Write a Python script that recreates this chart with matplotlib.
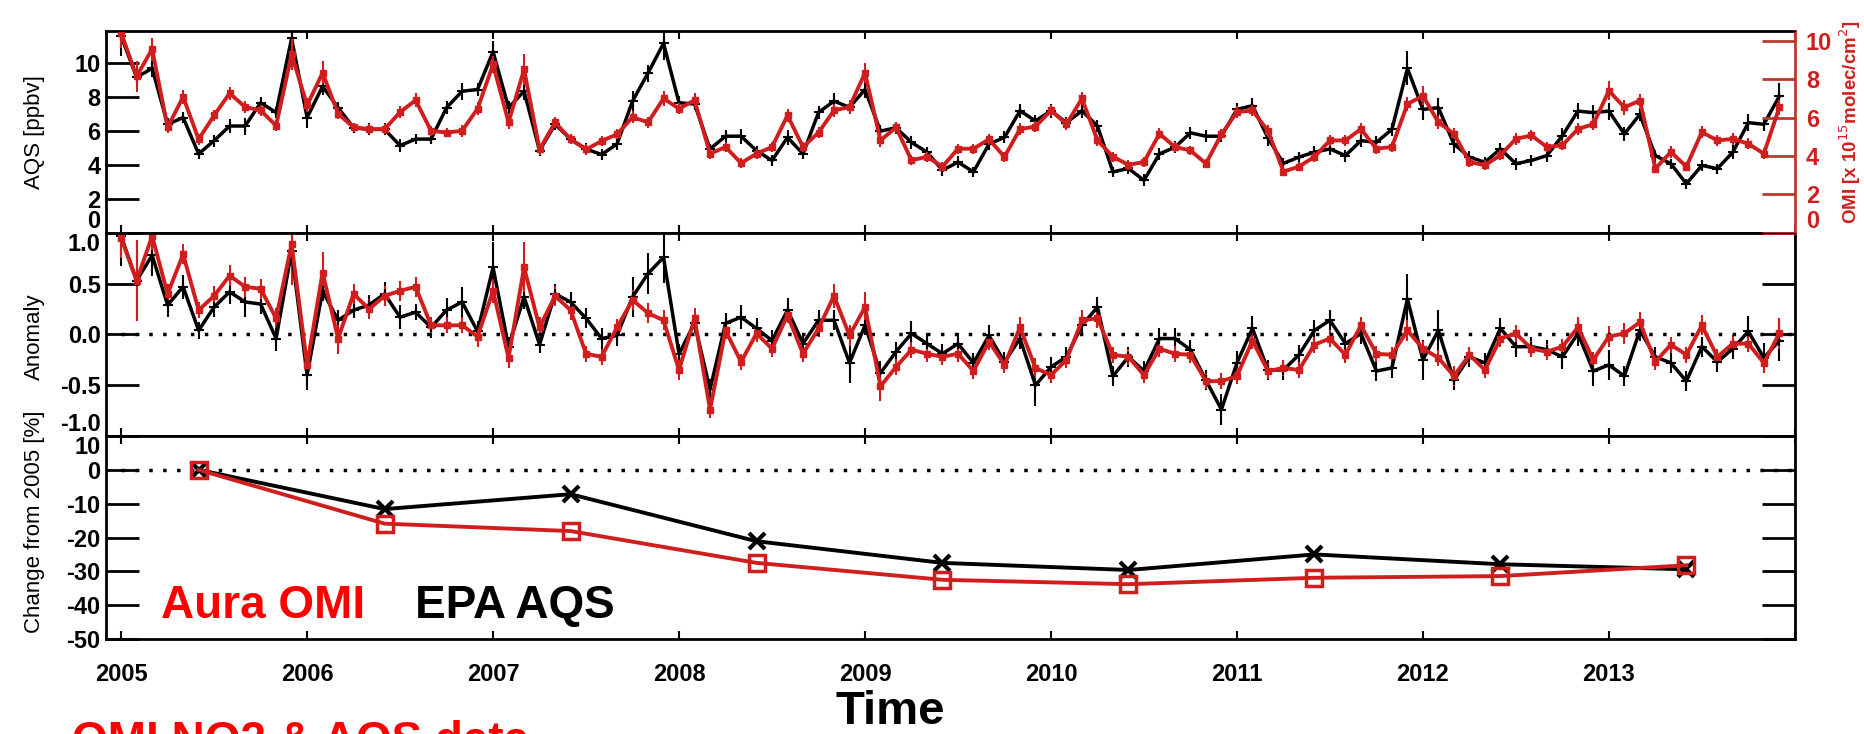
import numpy as np
import matplotlib.pyplot as plt

plt.rcParams['font.family'] = ['Liberation Sans', 'DejaVu Sans']
plt.rcParams['axes.unicode_minus'] = False

# monthly series, Jan 2005 .. Dec 2013
months = np.arange(108)
t = 2005 + months / 12.0

aqs_no2 = [11.6, 9.17, 9.7, 6.4, 6.8, 4.66, 5.44, 6.3, 6.3, 7.67, 7.1, 11.46,
           6.8, 8.64, 7.38, 6.2, 6.1, 6.1, 5.15, 5.53, 5.53, 7.38, 8.35, 8.45,
           10.68, 7.38, 8.35, 4.85, 6.4, 5.53, 4.95, 4.62, 5.24, 7.77, 9.42, 11.17,
           7.67, 7.6, 4.95, 5.7, 5.7, 4.85, 4.27, 5.63, 4.66, 7.1, 7.77, 7.4,
           8.45, 6.0, 6.2, 5.34, 4.76, 3.7, 4.17, 3.6, 5.24, 5.63, 7.2, 6.6,
           7.2, 6.5, 7.2, 6.3, 3.6, 3.8, 3.1, 4.66, 5.05, 5.9, 5.7, 5.7,
           7.28, 7.5, 5.6, 4.1, 4.47, 4.76, 4.95, 4.56, 5.44, 5.34, 6.1, 9.7,
           7.28, 7.38, 5.24, 4.47, 4.17, 4.95, 4.08, 4.27, 4.56, 5.73, 7.18, 7.09,
           7.18, 5.83, 6.99, 4.56, 4.08, 2.9, 3.98, 3.79, 4.76, 6.5, 6.4, 8.06]
aqs_err = [1.2, 0.4, 0.5, 0.35, 0.35, 0.3, 0.35, 0.4, 0.5, 0.35, 0.3, 1.2,
           0.6, 0.5, 0.35, 0.3, 0.35, 0.35, 0.4, 0.3, 0.3, 0.4, 0.5, 0.4,
           0.6, 0.4, 0.5, 0.3, 0.35, 0.3, 0.35, 0.3, 0.35, 0.6, 0.5, 1.0,
           0.4, 0.35, 0.3, 0.35, 0.45, 0.3, 0.3, 0.45, 0.3, 0.4, 0.5, 0.4,
           0.5, 0.35, 0.35, 0.4, 0.3, 0.35, 0.35, 0.3, 0.35, 0.35, 0.4, 0.35,
           0.4, 0.35, 0.4, 0.35, 0.3, 0.3, 0.35, 0.35, 0.35, 0.35, 0.35, 0.35,
           0.4, 0.45, 0.5, 0.3, 0.3, 0.35, 0.35, 0.35, 0.35, 0.35, 0.4, 1.0,
           0.6, 0.6, 0.5, 0.35, 0.3, 0.35, 0.35, 0.35, 0.35, 0.45, 0.45, 0.45,
           0.5, 0.4, 0.4, 0.35, 0.3, 0.3, 0.3, 0.3, 0.4, 0.5, 0.4, 0.8]

omi_no2 = [10.4, 8.14, 9.56, 5.49, 7.08, 4.87, 6.11, 7.26, 6.55, 6.37, 5.58, 9.29,
           6.64, 8.32, 6.2, 5.49, 5.4, 5.4, 6.28, 6.9, 5.31, 5.22, 5.31, 6.46,
           8.76, 5.75, 8.5, 4.34, 5.75, 4.87, 4.34, 4.78, 5.13, 6.02, 5.75, 6.99,
           6.46, 6.9, 4.12, 4.47, 3.63, 4.12, 4.47, 6.11, 4.47, 5.22, 6.37, 6.55,
           8.32, 4.81, 5.49, 3.78, 3.96, 3.45, 4.38, 4.38, 4.87, 3.96, 5.4, 5.53,
           6.37, 5.66, 6.99, 4.81, 3.96, 3.54, 3.69, 5.16, 4.47, 4.29, 3.61, 5.13,
           6.28, 6.37, 5.31, 3.19, 3.45, 3.96, 4.81, 4.81, 5.4, 4.38, 4.47, 6.7,
           7.13, 5.75, 5.16, 3.69, 3.52, 4.04, 4.89, 5.07, 4.47, 4.56, 5.4, 5.66,
           7.39, 6.53, 6.88, 3.35, 4.21, 3.45, 5.24, 4.81, 4.89, 4.64, 4.12, 6.53]
omi_err = [0.8, 0.8, 0.6, 0.3, 0.35, 0.3, 0.3, 0.35, 0.3, 0.3, 0.3, 0.8,
           0.35, 0.6, 0.3, 0.25, 0.25, 0.25, 0.3, 0.35, 0.25, 0.25, 0.3, 0.35,
           0.45, 0.35, 0.8, 0.3, 0.3, 0.25, 0.3, 0.25, 0.25, 0.3, 0.3, 0.4,
           0.3, 0.35, 0.25, 0.25, 0.25, 0.25, 0.25, 0.35, 0.25, 0.3, 0.35, 0.35,
           0.5, 0.35, 0.3, 0.25, 0.25, 0.25, 0.25, 0.25, 0.3, 0.25, 0.3, 0.3,
           0.3, 0.3, 0.35, 0.3, 0.25, 0.25, 0.25, 0.3, 0.25, 0.25, 0.25, 0.3,
           0.3, 0.3, 0.3, 0.25, 0.25, 0.25, 0.3, 0.3, 0.3, 0.25, 0.25, 0.35,
           0.5, 0.35, 0.3, 0.25, 0.25, 0.25, 0.3, 0.3, 0.25, 0.25, 0.3, 0.3,
           0.5, 0.4, 0.35, 0.25, 0.3, 0.25, 0.3, 0.3, 0.3, 0.3, 0.3, 0.4]

aqs_anom = [0.97, 0.53, 0.78, 0.29, 0.47, 0.04, 0.27, 0.42, 0.32, 0.30, -0.04, 0.82,
            -0.40, 0.43, 0.14, 0.24, 0.29, 0.40, 0.17, 0.22, 0.07, 0.24, 0.32, 0.03,
            0.66, -0.12, 0.37, -0.10, 0.40, 0.32, 0.16, -0.04, -0.01, 0.37, 0.60, 0.76,
            -0.19, 0.11, -0.54, 0.11, 0.17, 0.06, -0.06, 0.24, -0.09, 0.14, 0.14, -0.28,
            0.09, -0.38, -0.17, 0.01, -0.09, -0.19, -0.09, -0.28, -0.01, -0.27, -0.04, -0.50,
            -0.32, -0.22, 0.09, 0.27, -0.41, -0.22, -0.36, -0.04, -0.04, -0.15, -0.45, -0.74,
            -0.28, 0.06, -0.35, -0.35, -0.20, 0.04, 0.14, -0.09, 0.01, -0.36, -0.33, 0.35,
            -0.25, 0.04, -0.45, -0.22, -0.28, 0.06, -0.12, -0.12, -0.15, -0.22, 0.01, -0.36,
            -0.30, -0.41, 0.04, -0.22, -0.28, -0.46, -0.12, -0.27, -0.14, 0.03, -0.23, -0.06]
aqs_anom_err = [0.3, 0.4, 0.2, 0.12, 0.12, 0.08, 0.1, 0.12, 0.15, 0.1, 0.12, 0.25,
                0.15, 0.1, 0.1, 0.08, 0.1, 0.12, 0.12, 0.08, 0.1, 0.12, 0.15, 0.1,
                0.25, 0.1, 0.12, 0.08, 0.1, 0.1, 0.1, 0.1, 0.1, 0.2, 0.2, 0.25,
                0.1, 0.1, 0.1, 0.1, 0.12, 0.1, 0.1, 0.12, 0.1, 0.1, 0.1, 0.2,
                0.1, 0.12, 0.1, 0.12, 0.1, 0.1, 0.1, 0.1, 0.1, 0.1, 0.1, 0.2,
                0.1, 0.1, 0.1, 0.1, 0.1, 0.1, 0.1, 0.1, 0.1, 0.1, 0.1, 0.15,
                0.12, 0.12, 0.1, 0.1, 0.1, 0.1, 0.1, 0.1, 0.1, 0.1, 0.1, 0.25,
                0.2, 0.2, 0.1, 0.1, 0.1, 0.1, 0.1, 0.1, 0.1, 0.12, 0.12, 0.15,
                0.15, 0.1, 0.1, 0.1, 0.1, 0.1, 0.1, 0.1, 0.1, 0.15, 0.15, 0.2]

omi_anom = [0.95, 0.53, 0.97, 0.40, 0.79, 0.24, 0.38, 0.58, 0.47, 0.45, 0.16, 0.89,
            -0.30, 0.61, -0.04, 0.40, 0.25, 0.38, 0.43, 0.47, 0.09, 0.09, 0.09, -0.02,
            0.43, -0.23, 0.66, 0.07, 0.38, 0.24, -0.19, -0.22, 0.07, 0.34, 0.21, 0.14,
            -0.35, 0.16, -0.74, 0.04, -0.27, 0.01, -0.14, 0.19, -0.19, 0.06, 0.38, -0.01,
            0.27, -0.51, -0.32, -0.15, -0.19, -0.22, -0.19, -0.36, -0.07, -0.30, 0.07, -0.33,
            -0.40, -0.25, 0.14, 0.16, -0.20, -0.22, -0.40, -0.14, -0.19, -0.20, -0.46, -0.46,
            -0.41, -0.06, -0.36, -0.33, -0.35, -0.10, -0.04, -0.20, 0.09, -0.19, -0.20, 0.04,
            -0.14, -0.23, -0.41, -0.20, -0.35, -0.04, 0.01, -0.14, -0.17, -0.12, 0.07, -0.25,
            -0.02, 0.01, 0.12, -0.27, -0.10, -0.20, 0.09, -0.22, -0.09, -0.09, -0.28, 0.01]
omi_anom_err = [0.2, 0.4, 0.2, 0.1, 0.1, 0.08, 0.1, 0.1, 0.1, 0.1, 0.1, 0.4,
                0.12, 0.2, 0.15, 0.1, 0.1, 0.1, 0.1, 0.1, 0.08, 0.08, 0.08, 0.1,
                0.12, 0.1, 0.25, 0.1, 0.1, 0.1, 0.08, 0.08, 0.08, 0.1, 0.1, 0.1,
                0.1, 0.1, 0.08, 0.08, 0.08, 0.08, 0.08, 0.08, 0.08, 0.08, 0.12, 0.1,
                0.15, 0.15, 0.08, 0.08, 0.08, 0.08, 0.08, 0.08, 0.08, 0.08, 0.1, 0.1,
                0.08, 0.08, 0.1, 0.1, 0.08, 0.08, 0.08, 0.08, 0.08, 0.08, 0.08, 0.08,
                0.08, 0.08, 0.08, 0.08, 0.08, 0.08, 0.08, 0.08, 0.08, 0.08, 0.08, 0.1,
                0.08, 0.08, 0.1, 0.08, 0.08, 0.08, 0.08, 0.08, 0.08, 0.08, 0.1, 0.08,
                0.1, 0.1, 0.1, 0.08, 0.08, 0.08, 0.1, 0.08, 0.08, 0.08, 0.1, 0.15]

# annual change relative to 2005
years = [2005, 2006, 2007, 2008, 2009, 2010, 2011, 2012, 2013]
aqs_change = [0.0, -11.6, -7.2, -21.1, -27.5, -29.6, -25.0, -27.9, -29.4]
omi_change = [0.0, -15.9, -18.1, -27.5, -32.5, -33.8, -31.9, -31.4, -28.2]
year_ticks = [2005, 2006, 2007, 2008, 2009, 2010, 2011, 2012, 2013]

red = '#D01E1E'
axis_red = '#B83A30'

fig = plt.figure(figsize=(18.64, 7.34), dpi=100)
L, W = 0.0569, 0.906
ax1 = fig.add_axes([L, 0.6826, W, 0.2752])
ax2 = fig.add_axes([L, 0.406, W, 0.2766])
ax3 = fig.add_axes([L, 0.1294, W, 0.2766])


def style(ax, yticks, fmt):
    ax.set_xlim(2004.919, 2014.0)
    ax.set_xticks(year_ticks + [2014])
    ax.set_yticks(yticks)
    ax.set_yticklabels([fmt % v for v in yticks])
    ax.tick_params(axis='y', direction='in', length=24, width=2, left=True, right=True,
                   labelsize=17, pad=4)
    ax.tick_params(axis='x', direction='in', length=6, width=1.5, top=True, bottom=True,
                   labelsize=17, pad=17)
    for lab in ax.get_yticklabels() + ax.get_xticklabels():
        lab.set_fontweight('bold')
    for s in ax.spines.values():
        s.set_linewidth(2)


# panel 1: concentrations
ax1.errorbar(t, aqs_no2, yerr=aqs_err, color='k', lw=2.5, marker='+', ms=7, mew=1.5,
             elinewidth=1.5, capsize=0)
ax1.set_ylim(0, 11.9)
style(ax1, [0, 2, 4, 6, 8, 10], '%d')
ax1.set_xticklabels([])
ax1.get_yticklabels()[0].set_va('bottom')
ax1.set_ylabel('AQS [ppbv]', fontsize=16)
ax1.yaxis.set_label_coords(-0.036, 0.5)
ax1.spines['right'].set_visible(False)

axr = ax1.twinx()
axr.errorbar(t, omi_no2, yerr=omi_err, color=red, lw=2.8, marker='s', ms=5,
             elinewidth=1.5, capsize=0)
axr.set_ylim(0, 10.5)
axr.set_xlim(2004.919, 2014.0)
axr.set_yticks([0, 2, 4, 6, 8, 10])
axr.tick_params(axis='y', direction='in', length=24, width=2, colors=axis_red,
                labelsize=17, pad=8)
for lab in axr.get_yticklabels():
    lab.set_fontweight('bold')
    lab.set_color(red)
axr.get_yticklabels()[0].set_va('bottom')
axr.spines['right'].set_color(axis_red)
axr.spines['right'].set_linewidth(2)
axr.set_ylabel('OMI [x 10$^{15}$molec/cm$^{2}$]', color=red, fontsize=13.5,
               fontweight='bold')
axr.yaxis.set_label_coords(1.025, 0.55)

# panel 2: anomalies
ax2.errorbar(t, aqs_anom, yerr=aqs_anom_err, color='k', lw=2.5, marker='+', ms=7,
             mew=1.5, elinewidth=1.5, capsize=0)
ax2.errorbar(t, omi_anom, yerr=omi_anom_err, color=red, lw=2.8, marker='s', ms=5,
             elinewidth=1.5, capsize=0)
ax2.plot([2005.0, 2014.0], [0, 0], color='k', lw=2.5, linestyle=(0, (1, 3)))
ax2.set_ylim(-1.0, 1.0)
style(ax2, [-1.0, -0.5, 0.0, 0.5, 1.0], '%.1f')
ax2.set_xticklabels([])
ax2.get_yticklabels()[0].set_va('bottom')
ax2.get_yticklabels()[-1].set_va('top')
ax2.set_ylabel('Anomaly', fontsize=16)
ax2.yaxis.set_label_coords(-0.036, 0.49)

# panel 3: change from 2005
yr_mid = [y + 5 / 12 for y in years]
ax3.plot([2005.0, 2014.0], [0, 0], color='k', lw=2.5, linestyle=(0, (1, 3)))
ax3.plot(yr_mid, aqs_change, color='k', lw=2.8, marker='x', ms=12, mew=3)
ax3.plot(yr_mid, omi_change, color=red, lw=2.8, marker='s', ms=12, mew=2.5,
         mfc='none')
ax3.set_ylim(-50, 10)
style(ax3, [-50, -40, -30, -20, -10, 0, 10], '%d')
ax3.set_xticklabels([str(y) for y in year_ticks] + [''])
for lab in ax3.get_xticklabels():
    lab.set_fontweight('bold')
ax3.get_yticklabels()[-1].set_va('top')
ax3.set_ylabel('Change from 2005 [%]', fontsize=16)
ax3.yaxis.set_label_coords(-0.036, 0.58)

fig.text(161 / 1864, 1 - 618 / 734, 'Aura OMI', color='red', fontsize=33,
         fontweight='bold', va='baseline')
fig.text(415 / 1864, 1 - 618 / 734, 'EPA AQS', color='k', fontsize=33,
         fontweight='bold', va='baseline')
fig.text(890 / 1864, 1 - 724 / 734, 'Time', color='k', fontsize=34,
         fontweight='bold', ha='center', va='baseline')
fig.text(72 / 1864, 1 - 720 / 734, 'OMI NO2 & AQS data', color='red', fontsize=33,
         fontweight='bold', va='top')

fig.savefig('out.png', dpi=100)
